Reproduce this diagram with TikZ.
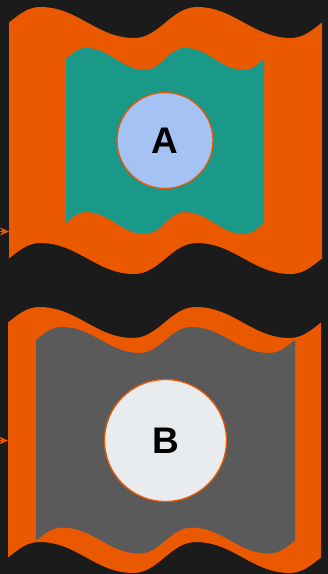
\documentclass[tikz,border=0pt]{standalone}
\usepackage{fontspec}
\setmainfont{Liberation Sans}
\usepackage{tikz}
\usetikzlibrary{arrows.meta}
\definecolor{bgdark}{HTML}{1B1B1B}
\definecolor{flagorange}{HTML}{EA5800}
\definecolor{innerteal}{HTML}{1A9888}
\definecolor{innergrey}{HTML}{5A5A5A}
\definecolor{bubbleblue}{HTML}{A4C2F4}
\definecolor{bubblegrey}{HTML}{E8ECEE}
% wavy edge, left to right: left x, width, mid y, amplitude
\newcommand{\waveright}[4]{%
  ({#1},{#3}) .. controls ({#1+0.033*#2},{#3-0.52*#4}) and ({#1+0.06*#2},{#3-#4}) .. ({#1+0.1*#2},{#3-#4})
  .. controls ({#1+0.22*#2},{#3-#4}) and ({#1+0.28*#2},{#3+#4}) .. ({#1+0.4*#2},{#3+#4})
  .. controls ({#1+0.48*#2},{#3+#4}) and ({#1+0.52*#2},{#3-#4}) .. ({#1+0.6*#2},{#3-#4})
  .. controls ({#1+0.72*#2},{#3-#4}) and ({#1+0.78*#2},{#3+#4}) .. ({#1+0.9*#2},{#3+#4})
  .. controls ({#1+0.94*#2},{#3+#4}) and ({#1+0.967*#2},{#3+0.52*#4}) .. ({#1+#2},{#3})}
% same edge, right to left, closing the flag
\newcommand{\waveleft}[4]{%
  -- ({#1+#2},{#3}) .. controls ({#1+0.967*#2},{#3+0.52*#4}) and ({#1+0.94*#2},{#3+#4}) .. ({#1+0.9*#2},{#3+#4})
  .. controls ({#1+0.78*#2},{#3+#4}) and ({#1+0.72*#2},{#3-#4}) .. ({#1+0.6*#2},{#3-#4})
  .. controls ({#1+0.52*#2},{#3-#4}) and ({#1+0.48*#2},{#3+#4}) .. ({#1+0.4*#2},{#3+#4})
  .. controls ({#1+0.28*#2},{#3+#4}) and ({#1+0.22*#2},{#3-#4}) .. ({#1+0.1*#2},{#3-#4})
  .. controls ({#1+0.06*#2},{#3-#4}) and ({#1+0.033*#2},{#3-0.52*#4}) .. ({#1},{#3}) -- cycle}
\tikzset{
  bubble/.style={circle, draw=flagorange, line width=1.3pt, inner sep=0pt,
                 font=\fontsize{37}{40}\selectfont\bfseries, text=black},
  edgearr/.style={-{Stealth[length=9pt,width=8pt]}, line width=1.3pt, draw=flagorange},
}
\begin{document}
\begin{tikzpicture}[x=1pt, y=-1pt]
  \fill[bgdark] (0,0) rectangle (328,574);
  \useasboundingbox (0,0) rectangle (328,574);
  % upper flag
  \fill[flagorange] \waveright{9}{313}{22.5}{15.5} \waveleft{9}{313}{258.5}{15.5};
  \fill[innerteal] \waveright{66}{198}{59}{11} \waveleft{66}{198}{223}{11};
  \node[bubble, fill=bubbleblue, minimum size=96pt] (nodeA) at (165,140.5) {A};
  % lower flag
  \fill[flagorange] \waveright{8}{313}{322.5}{15.5} \waveleft{8}{313}{557.5}{15.5};
  \fill[innergrey] \waveright{36}{259}{340}{13} \waveleft{36}{259}{540.5}{13};
  \node[bubble, fill=bubblegrey, minimum size=122pt] (nodeB) at (165.5,440.5) {B};
  % incoming edges, cut by the border
  \coordinate (srcA) at (-40,231.5);
  \coordinate (flagA) at (9,231.5);
  \coordinate (srcB) at (-40,440.5);
  \coordinate (flagB) at (8,440.5);
  \draw[edgearr] (srcA) -- (flagA);
  \draw[edgearr] (srcB) -- (flagB);
\end{tikzpicture}
\end{document}
